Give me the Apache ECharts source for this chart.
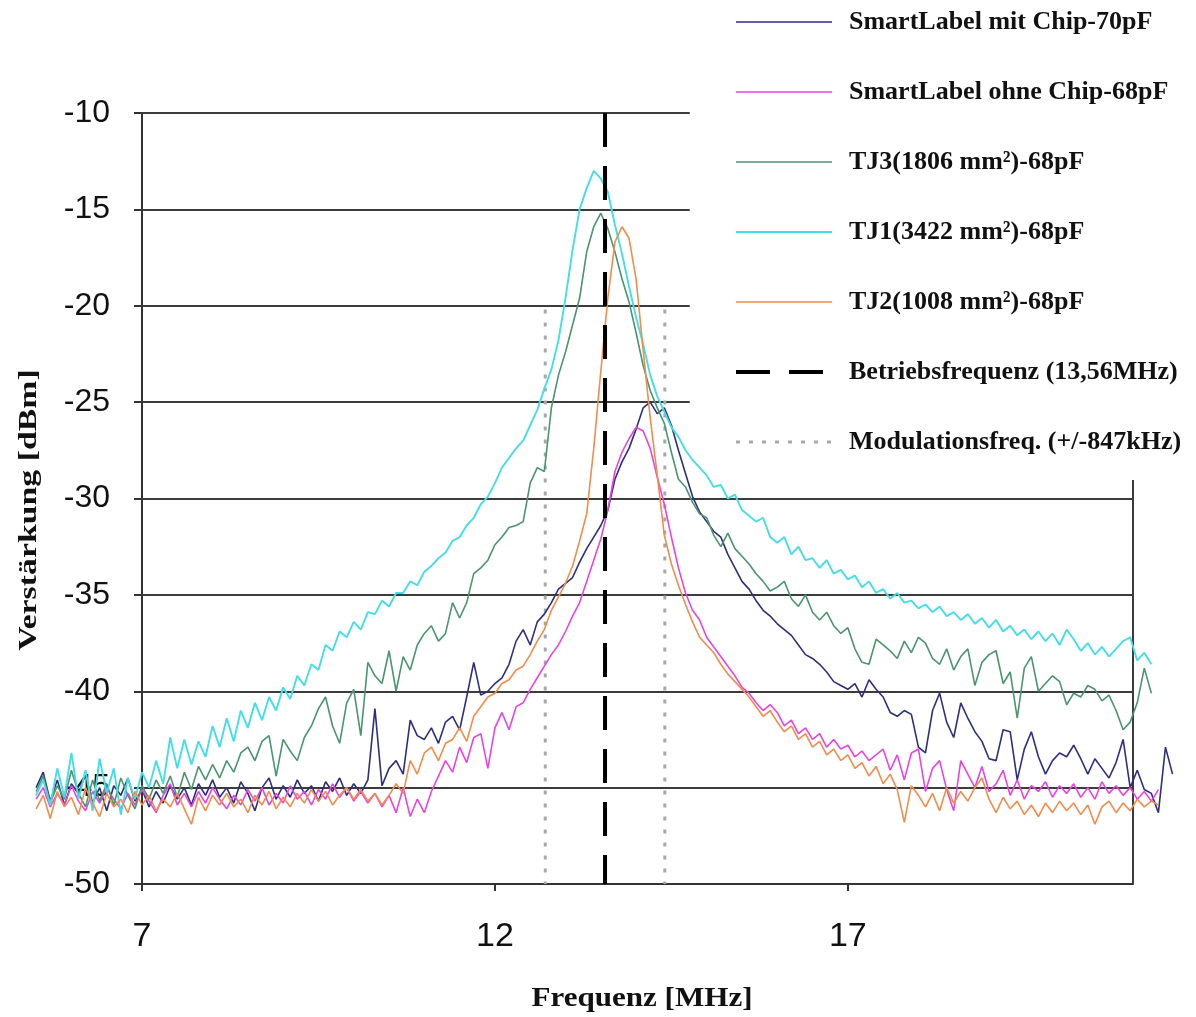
<!DOCTYPE html>
<html>
<head>
<meta charset="utf-8">
<script src="https://cdn.jsdelivr.net/npm/echarts@6/dist/echarts.min.js"></script>
<style>
  html, body { margin: 0; padding: 0; background: #fff; }
  #chart { width: 1196px; height: 1017px; }
</style>
</head>
<body>
<div id="chart"></div>
<script>
// frequency grid in MHz (5.5 ... 21.6, step 0.1)
const freq = [
  5.5, 5.6, 5.7, 5.8, 5.9, 6.0, 6.1, 6.2, 6.3, 6.4,
  6.5, 6.6, 6.7, 6.8, 6.9, 7.0, 7.1, 7.2, 7.3, 7.4,
  7.5, 7.6, 7.7, 7.8, 7.9, 8.0, 8.1, 8.2, 8.3, 8.4,
  8.5, 8.6, 8.7, 8.8, 8.9, 9.0, 9.1, 9.2, 9.3, 9.4,
  9.5, 9.6, 9.7, 9.8, 9.9, 10.0, 10.1, 10.2, 10.3, 10.4,
  10.5, 10.6, 10.7, 10.8, 10.9, 11.0, 11.1, 11.2, 11.3, 11.4,
  11.5, 11.6, 11.7, 11.8, 11.9, 12.0, 12.1, 12.2, 12.3, 12.4,
  12.5, 12.6, 12.7, 12.8, 12.9, 13.0, 13.1, 13.2, 13.3, 13.4,
  13.5, 13.6, 13.7, 13.8, 13.9, 14.0, 14.1, 14.2, 14.3, 14.4,
  14.5, 14.6, 14.7, 14.8, 14.9, 15.0, 15.1, 15.2, 15.3, 15.4,
  15.5, 15.6, 15.7, 15.8, 15.9, 16.0, 16.1, 16.2, 16.3, 16.4,
  16.5, 16.6, 16.7, 16.8, 16.9, 17.0, 17.1, 17.2, 17.3, 17.4,
  17.5, 17.6, 17.7, 17.8, 17.9, 18.0, 18.1, 18.2, 18.3, 18.4,
  18.5, 18.6, 18.7, 18.8, 18.9, 19.0, 19.1, 19.2, 19.3, 19.4,
  19.5, 19.6, 19.7, 19.8, 19.9, 20.0, 20.1, 20.2, 20.3, 20.4,
  20.5, 20.6, 20.7, 20.8, 20.9, 21.0, 21.1, 21.2, 21.3, 21.4,
  21.5, 21.6
];

// Verstärkung in dBm, one value per freq entry
const smartMitChip = [
  -45.0, -44.2, -45.7, -44.6, -45.9, -44.8, -45.3, -44.3, -45.8, -45.0,
  -46.2, -44.9, -45.4, -44.5, -45.7, -45.1, -46.0, -45.2, -45.8, -44.9,
  -45.6, -45.0, -45.9, -44.8, -45.4, -44.6, -45.5, -45.0, -45.8, -44.7,
  -45.3, -46.2, -45.0, -44.5, -45.6, -44.9, -45.5, -44.6, -45.3, -44.9,
  -45.7, -44.7, -45.2, -44.5, -45.4, -44.8, -45.3, -44.6, -40.9, -44.9,
  -44.0, -43.6, -44.3, -41.5, -42.3, -42.5, -41.9, -42.7, -41.6, -41.3,
  -42.0, -40.3, -38.5, -40.2, -40.0, -39.6, -39.3, -38.6, -37.4, -36.8,
  -37.6, -36.4, -36.0, -35.4, -34.7, -34.4, -34.1, -33.3, -32.6, -32.0,
  -31.4, -30.6, -29.0, -28.1, -27.4, -26.4, -25.3, -25.0, -25.6, -25.3,
  -26.2, -27.5, -28.7, -29.9, -30.7, -31.2, -31.7, -32.0, -32.9, -33.6,
  -34.3, -34.7, -35.3, -35.8, -36.1, -36.5, -36.8, -37.1, -37.6, -38.1,
  -38.3, -38.6, -39.0, -39.5, -39.7, -39.9, -39.6, -40.3, -39.4, -39.9,
  -40.3, -41.1, -41.3, -41.0, -41.2, -42.9, -43.2, -41.0, -40.1, -41.6,
  -42.4, -40.6, -41.4, -42.1, -42.6, -43.5, -43.6, -42.0, -42.1, -44.6,
  -43.0, -42.1, -43.4, -44.3, -43.6, -43.2, -43.4, -42.8, -43.5, -44.3,
  -43.5, -44.0, -44.5, -43.7, -42.5, -45.0, -44.1, -45.1, -45.3, -46.3,
  -42.9, -44.3
];

const smartOhneChip = [
  -45.6, -45.0, -46.0, -45.3, -45.9, -44.9, -45.7, -46.2, -45.2, -45.8,
  -45.0, -45.6, -46.1, -45.3, -45.9, -45.1, -45.7, -46.3, -45.4, -44.8,
  -45.9, -45.3, -46.0, -45.2, -45.8, -45.0, -45.6, -46.1, -45.4, -45.9,
  -45.1, -45.7, -45.0, -45.9, -45.3, -45.8, -44.9, -45.6, -45.2, -45.9,
  -45.1, -45.6, -44.8, -45.5, -45.0, -45.7, -45.2, -45.8, -45.3, -46.0,
  -45.4, -46.3, -45.0, -46.5, -45.6, -46.3, -45.2, -44.4, -43.6, -44.2,
  -42.9, -43.7, -42.4, -42.2, -44.0, -41.9, -41.1, -42.0, -40.8, -40.6,
  -39.9, -39.3, -38.7, -38.1, -37.6, -36.9, -36.1, -35.4, -34.3, -33.2,
  -32.1, -30.6, -28.6, -27.6, -26.9, -26.3, -26.5, -27.4, -28.9, -30.3,
  -32.0, -33.6, -34.9, -35.8, -36.3, -37.2, -37.7, -38.2, -38.7, -39.2,
  -39.8, -40.1, -40.6, -41.0, -40.7, -41.1, -41.8, -41.5, -42.2, -41.9,
  -42.5, -42.2, -42.9, -42.5, -43.0, -42.8, -43.4, -43.1, -43.6, -43.3,
  -43.0, -44.1, -43.3, -44.6, -43.2, -43.0, -45.2, -44.0, -43.6, -45.1,
  -46.2, -43.6, -44.3, -45.0, -43.9, -45.2, -44.8, -44.1, -45.4, -44.6,
  -45.6, -44.9, -45.2, -44.7, -45.5, -44.9, -45.3, -44.8, -45.5, -45.0,
  -45.6, -44.7, -45.3, -44.9, -45.4, -45.0, -45.6, -45.2, -45.7, -45.1,
  null, null
];

const tj3 = [
  -45.2, -44.4, -45.8, -44.9, -45.6, -44.1, -45.3, -46.0, -44.6, -45.7,
  -44.8, -45.9, -44.5, -45.4, -46.1, -44.9, -45.6, -44.6, -45.3, -44.4,
  -45.5, -44.2, -45.1, -43.9, -44.6, -43.8, -44.5, -43.6, -44.2, -43.2,
  -42.9, -43.6, -42.6, -42.3, -44.4, -42.5, -43.1, -43.6, -42.4, -41.8,
  -40.9, -40.3, -41.8, -42.7, -40.6, -39.9, -42.3, -38.5, -39.2, -39.6,
  -37.9, -40.0, -38.2, -38.9, -37.6, -37.0, -36.6, -37.4, -37.0, -35.4,
  -36.2, -35.4, -33.9, -33.6, -33.2, -32.4, -32.0, -31.5, -31.4, -31.2,
  -29.2, -28.4, -28.6, -25.3, -23.6, -22.4, -21.0, -19.6, -17.2, -15.9,
  -15.2, -16.0, -17.2, -18.6, -19.8, -21.4, -23.1, -24.4, -25.3, -26.1,
  -27.6, -29.0, -29.4, -30.2, -30.8, -31.0, -31.9, -32.5, -31.8, -32.6,
  -33.0, -33.4, -33.9, -34.3, -34.8, -34.6, -34.3, -35.2, -35.6, -35.0,
  -35.9, -36.3, -35.9, -36.6, -37.0, -36.7, -37.8, -38.5, -38.6, -37.3,
  -37.6, -37.9, -38.3, -37.4, -38.0, -37.2, -37.5, -38.3, -38.6, -37.8,
  -38.9, -38.2, -37.8, -39.7, -38.5, -38.1, -37.9, -39.6, -39.0, -41.4,
  -38.8, -38.2, -40.0, -39.6, -39.2, -39.5, -40.7, -40.1, -40.3, -39.7,
  -39.9, -40.5, -40.2, -41.0, -42.0, -41.6, -40.6, -38.8, -40.1, null,
  null, null
];

const tj1 = [
  -45.4, -44.6, -45.9, -44.0, -45.5, -43.2, -45.6, -44.1, -46.2, -43.5,
  -45.3, -44.0, -46.4, -44.5, -45.6, -44.2, -45.0, -43.6, -44.8, -42.4,
  -44.0, -42.5, -43.8, -42.6, -43.4, -41.8, -42.9, -41.4, -42.6, -41.0,
  -41.9, -40.6, -41.5, -40.3, -41.0, -39.8, -40.4, -39.2, -39.7, -38.6,
  -38.9, -37.6, -37.9, -36.9, -37.2, -36.4, -36.8, -35.9, -36.0, -35.3,
  -35.6, -34.9, -34.9, -34.3, -34.5, -33.8, -33.5, -33.1, -32.8, -32.2,
  -32.0, -31.4, -31.0, -30.3, -29.9, -29.2, -28.4, -27.9, -27.4, -27.0,
  -26.2, -25.4, -24.3, -23.3, -21.8, -19.6, -17.1, -15.0, -13.9, -13.0,
  -13.4, -14.1, -15.8, -17.3, -19.0, -20.6, -22.0, -23.6, -24.7, -25.5,
  -26.3, -26.8, -27.5, -28.0, -28.4, -28.8, -29.4, -29.3, -30.0, -29.8,
  -30.6, -30.9, -31.2, -31.0, -32.0, -32.3, -32.0, -32.9, -32.5, -33.2,
  -33.1, -33.6, -33.2, -33.9, -33.7, -34.2, -34.0, -34.6, -34.3, -34.9,
  -34.7, -35.2, -34.9, -35.4, -35.3, -35.7, -35.5, -35.9, -35.6, -36.1,
  -35.9, -36.3, -36.0, -36.5, -36.2, -36.7, -36.3, -36.9, -36.6, -37.1,
  -36.8, -37.3, -36.9, -37.4, -37.0, -37.6, -36.8, -37.3, -37.9, -37.5,
  -38.1, -37.7, -38.2, -37.8, -37.4, -37.2, -38.4, -38.0, -38.6, null,
  null, null
];

const tj2 = [
  -46.1, -45.4, -46.6, -45.2, -46.0, -45.5, -46.4, -45.0, -45.8, -46.5,
  -45.3, -46.0, -45.6, -46.3, -45.2, -45.9, -45.4, -46.2, -45.6, -46.0,
  -45.3, -46.1, -46.9, -45.5, -46.2, -45.4, -45.9, -45.3, -46.0, -45.6,
  -46.3, -45.4, -45.9, -45.2, -46.1, -45.5, -46.0, -45.3, -45.8, -45.1,
  -45.7, -45.2, -45.9, -45.4, -45.0, -45.6, -45.1, -45.7, -45.3, -45.9,
  -45.4, -44.8, -45.3, -43.6, -44.3, -43.2, -42.9, -43.6, -42.7, -42.5,
  -41.9, -42.6, -41.3, -40.8, -40.3, -40.1, -39.6, -39.4, -38.9, -38.7,
  -38.1, -37.4, -36.8, -35.8, -35.1, -34.4, -33.5, -32.2, -30.8, -27.4,
  -23.4, -19.6, -16.7, -15.9, -16.5, -18.6, -22.3, -25.8, -28.8, -31.9,
  -33.4, -34.5, -35.5, -36.4, -37.2, -37.6, -38.0, -38.6, -39.1, -39.5,
  -39.9, -40.3, -40.8, -41.3, -41.0, -41.6, -42.1, -41.8, -42.5, -42.2,
  -42.9, -42.6, -43.3, -43.0, -43.6, -43.3, -44.0, -43.7, -44.4, -43.9,
  -44.8, -44.3, -45.1, -46.8, -44.9, -45.4, -46.0, -45.3, -46.2, -45.0,
  -45.8, -45.2, -45.7, -45.0, -44.5, -45.6, -46.3, -45.5, -46.1, -45.7,
  -46.4, -45.9, -46.5, -45.8, -46.3, -45.7, -46.2, -45.8, -46.4, -45.9,
  -46.9, -46.0, -45.7, -46.3, -45.8, -46.2, -45.6, -46.0, -45.7, -45.9,
  null, null
];

// reference lines
const betriebsFreq = 13.56;
const modFreqs = [12.713, 14.407];
const xTicks = [7, 12, 17];
const gridShort = [-10, -15, -20, -25];
const gridLong = [-30, -35, -40, -45];

const names = [
  'SmartLabel mit Chip-70pF',
  'SmartLabel ohne Chip-68pF',
  'TJ3(1806 mm²)-68pF',
  'TJ1(3422 mm²)-68pF',
  'TJ2(1008 mm²)-68pF',
  'Betriebsfrequenz (13,56MHz)',
  'Modulationsfreq. (+/-847kHz)'
];

// plot area: x 7 .. 21.04 MHz between pixels 142 and 1133
const X_MIN = 7, X_RIGHT = 21.04;
const X_LEGEND = 14.76;  // upper grid lines stop at the legend box
const PX_LEFT = 142, PX_RIGHT = 1133, W = 1196;
const pxPerMHz = (PX_RIGHT - PX_LEFT) / (X_RIGHT - X_MIN);
// second, wider grid for the measured curves (they run past the axes)
const F_START = freq[0], F_END = freq[freq.length - 1];
const wideLeft = PX_LEFT - (X_MIN - F_START) * pxPerMHz;
const wideRight = W - (PX_LEFT + (F_END - X_MIN) * pxPerMHz);

function curve(name, values, color, width) {
  return {
    name: name,
    type: 'line',
    xAxisIndex: 1,
    yAxisIndex: 1,
    data: freq.map((f, i) => [f, values[i]]),
    symbol: 'none',
    showSymbol: false,
    clip: false,
    lineStyle: { color: color, width: width || 1.6 },
    itemStyle: { color: color },
    emphasis: { disabled: true },
    z: 3
  };
}

const gridLines = []
  .concat(gridShort.map(v => [{ coord: [X_MIN, v] }, { coord: [X_LEGEND, v] }]))
  .concat(gridLong.map(v => [{ coord: [X_MIN, v] }, { coord: [X_RIGHT, v] }]))
  .concat([[{ coord: [X_RIGHT, -29.04] }, { coord: [X_RIGHT, -50] }]]);

const chart = echarts.init(document.getElementById('chart'));
chart.setOption({
  animation: false,
  backgroundColor: '#fff',
  grid: [
    { left: PX_LEFT, right: W - PX_RIGHT, top: 113, bottom: 133 },
    { left: wideLeft, right: wideRight, top: 113, bottom: 133 }
  ],
  legend: {
    orient: 'vertical',
    left: 729,
    top: 4,
    itemWidth: 96,
    itemHeight: 26,
    itemGap: 44,
    selectedMode: false,
    data: names,
    itemStyle: { opacity: 0 },
    lineStyle: { width: 'inherit' },
    textStyle: {
      fontFamily: 'Liberation Serif',
      fontWeight: 'bold',
      fontSize: 26,
      lineHeight: 26,
      color: '#111',
      padding: [0, 0, 0, 12]
    }
  },
  xAxis: [
    {
      type: 'value',
      gridIndex: 0,
      min: X_MIN,
      max: X_RIGHT,
      axisLine: { show: true, lineStyle: { color: '#333', width: 2 } },
      axisTick: { show: true, customValues: xTicks, length: 7, lineStyle: { color: '#333', width: 2 } },
      axisLabel: {
        customValues: xTicks,
        fontFamily: 'Liberation Sans',
        fontSize: 34,
        color: '#111',
        margin: 36
      },
      splitLine: { show: false }
    },
    {
      type: 'value',
      gridIndex: 1,
      min: F_START,
      max: F_END,
      show: false
    }
  ],
  yAxis: [
    {
      type: 'value',
      gridIndex: 0,
      min: -50,
      max: -10,
      interval: 5,
      axisLine: { show: true, lineStyle: { color: '#333', width: 2 } },
      axisTick: { show: true, length: 8, lineStyle: { color: '#333', width: 2 } },
      axisLabel: {
        fontFamily: 'Liberation Sans',
        fontSize: 32,
        color: '#111',
        margin: 32
      },
      splitLine: { show: false }
    },
    {
      type: 'value',
      gridIndex: 1,
      min: -50,
      max: -10,
      show: false
    }
  ],
  graphic: [
    {
      type: 'text',
      x: 642,
      y: 999,
      scaleX: 1.15,
      style: {
        text: 'Frequenz [MHz]',
        font: 'bold 27px "Liberation Serif"',
        fill: '#111',
        textAlign: 'center',
        verticalAlign: 'middle'
      }
    },
    {
      type: 'text',
      x: 29,
      y: 510,
      rotation: Math.PI / 2,
      scaleX: 1.3,
      style: {
        text: 'Verstärkung [dBm]',
        font: 'bold 26px "Liberation Serif"',
        fill: '#111',
        textAlign: 'center',
        verticalAlign: 'middle'
      }
    }
  ],
  series: [
    curve(names[0], smartMitChip, '#2e2e80'),
    curve(names[1], smartOhneChip, '#e845e0'),
    curve(names[2], tj3, '#4b9470'),
    curve(names[3], tj1, '#45dde6', 1.9),
    curve(names[4], tj2, '#f28c4c'),
    {
      name: names[5],
      type: 'line',
      data: [[betriebsFreq, -10], [betriebsFreq, -50]],
      symbol: 'none',
      z: 4,
      lineStyle: { color: '#000', width: 4, type: [34, 19] },
      itemStyle: { color: '#000' },
      emphasis: { disabled: true },
      markLine: {
        silent: true,
        z: 1,
        symbol: ['none', 'none'],
        label: { show: false },
        emphasis: { disabled: true },
        lineStyle: { color: '#3c3c3c', width: 2, type: 'solid' },
        data: gridLines
      }
    }
  ].concat(modFreqs.map(f => ({
    name: names[6],
    type: 'line',
    data: [[f, -20.2], [f, -50]],
    symbol: 'none',
    z: 2,
    lineStyle: { color: '#a8a8a8', width: 3, type: [4, 9] },
    itemStyle: { color: '#a8a8a8' },
    emphasis: { disabled: true }
  })))
});
</script>
</body>
</html>
